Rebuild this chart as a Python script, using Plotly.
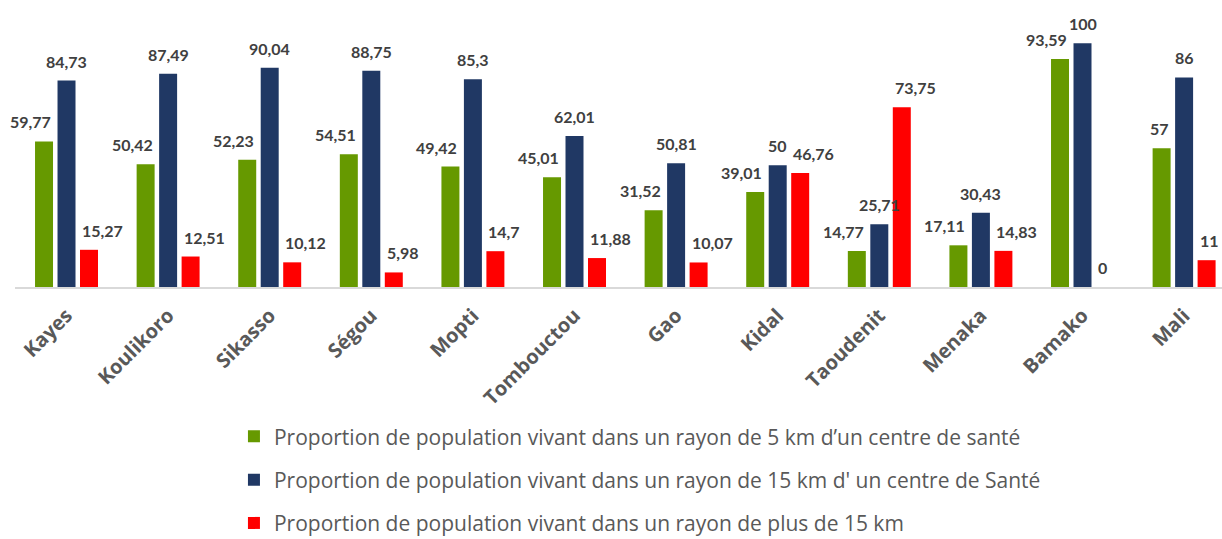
import plotly.graph_objects as go

regions = ["Kayes", "Koulikoro", "Sikasso", "Ségou", "Mopti", "Tombouctou",
           "Gao", "Kidal", "Taoudenit", "Menaka", "Bamako", "Mali"]
within_5km = [59.77, 50.42, 52.23, 54.51, 49.42, 45.01, 31.52, 39.01, 14.77, 17.11, 93.59, 57]
within_15km = [84.73, 87.49, 90.04, 88.75, 85.3, 62.01, 50.81, 50, 25.71, 30.43, 100, 86]
beyond_15km = [15.27, 12.51, 10.12, 5.98, 14.7, 11.88, 10.07, 46.76, 73.75, 14.83, 0, 11]
series_names = [
    "Proportion de population vivant dans un rayon de 5 km d’un centre de santé",
    "Proportion de population vivant dans un rayon de 15 km d' un centre de Santé",
    "Proportion de population vivant dans un rayon de plus de 15 km",
]
colors = ["#669900", "#203864", "#FF0000"]

W, H = 1222, 539
ml, mr, mt, mb = 15, 0, 19, 252
x_range = [-0.507, 11.373]
bargap, bargroupgap = 0.336, 0.2

fig = go.Figure()
all_series = [within_5km, within_15km, beyond_15km]
for i, (vals, name) in enumerate(zip(all_series, series_names)):
    fig.add_trace(go.Bar(
        x=regions, y=vals, name=name, legendgroup=f"g{i}",
        marker=dict(color=colors[i], line=dict(width=0)),
    ))

def fmt(v):
    return f"{v:g}".replace(".", ",")

# label offsets in px (green right-aligned to bar, blue centered, red left-aligned)
px_per_cat = (W - ml - mr) / (x_range[1] - x_range[0])
slot = px_per_cat * (1 - bargap) / 3
half_bar = slot * (1 - bargroupgap) / 2
anns = []
for i, vals in enumerate(all_series):
    center_off = (i - 1) * slot
    if i == 0:
        xs, xa = center_off + half_bar, "right"
    elif i == 1:
        xs, xa = center_off, "center"
    else:
        xs, xa = center_off - half_bar, "left"
    for r, v in zip(regions, vals):
        anns.append(dict(
            x=r, y=v, xref="x", yref="y", text=fmt(v), showarrow=False,
            xanchor=xa, yanchor="bottom", xshift=xs, yshift=8,
            font=dict(family="Lato", size=16, color="#404040", weight="bold"),
        ))

fig.update_layout(
    width=W, height=H,
    margin=dict(l=ml, r=mr, t=mt, b=mb, autoexpand=False),
    plot_bgcolor="white", paper_bgcolor="white",
    barmode="group", bargap=bargap, bargroupgap=bargroupgap,
    annotations=anns,
    showlegend=True,
    legend=dict(
        orientation="v", x=0.1814, xanchor="left", y=-0.482, yanchor="top",
        font=dict(family="Open Sans", size=21, color="#595959"),
        tracegroupgap=13, traceorder="grouped",
    ),
    xaxis=dict(
        range=x_range, showline=True, linecolor="#D9D9D9", linewidth=2,
        tickangle=-45, ticks="", ticklabelstandoff=7,
        tickfont=dict(family="Open Sans", size=20, color="#595959", weight="bold"),
        showgrid=False,
    ),
    yaxis=dict(range=[0, 110], visible=False, showgrid=False, zeroline=False),
)

fig.write_html(
    "out.html",
    config={"displayModeBar": False},
    post_script="document.body.style.margin='0px';document.body.style.overflow='hidden';",
)
